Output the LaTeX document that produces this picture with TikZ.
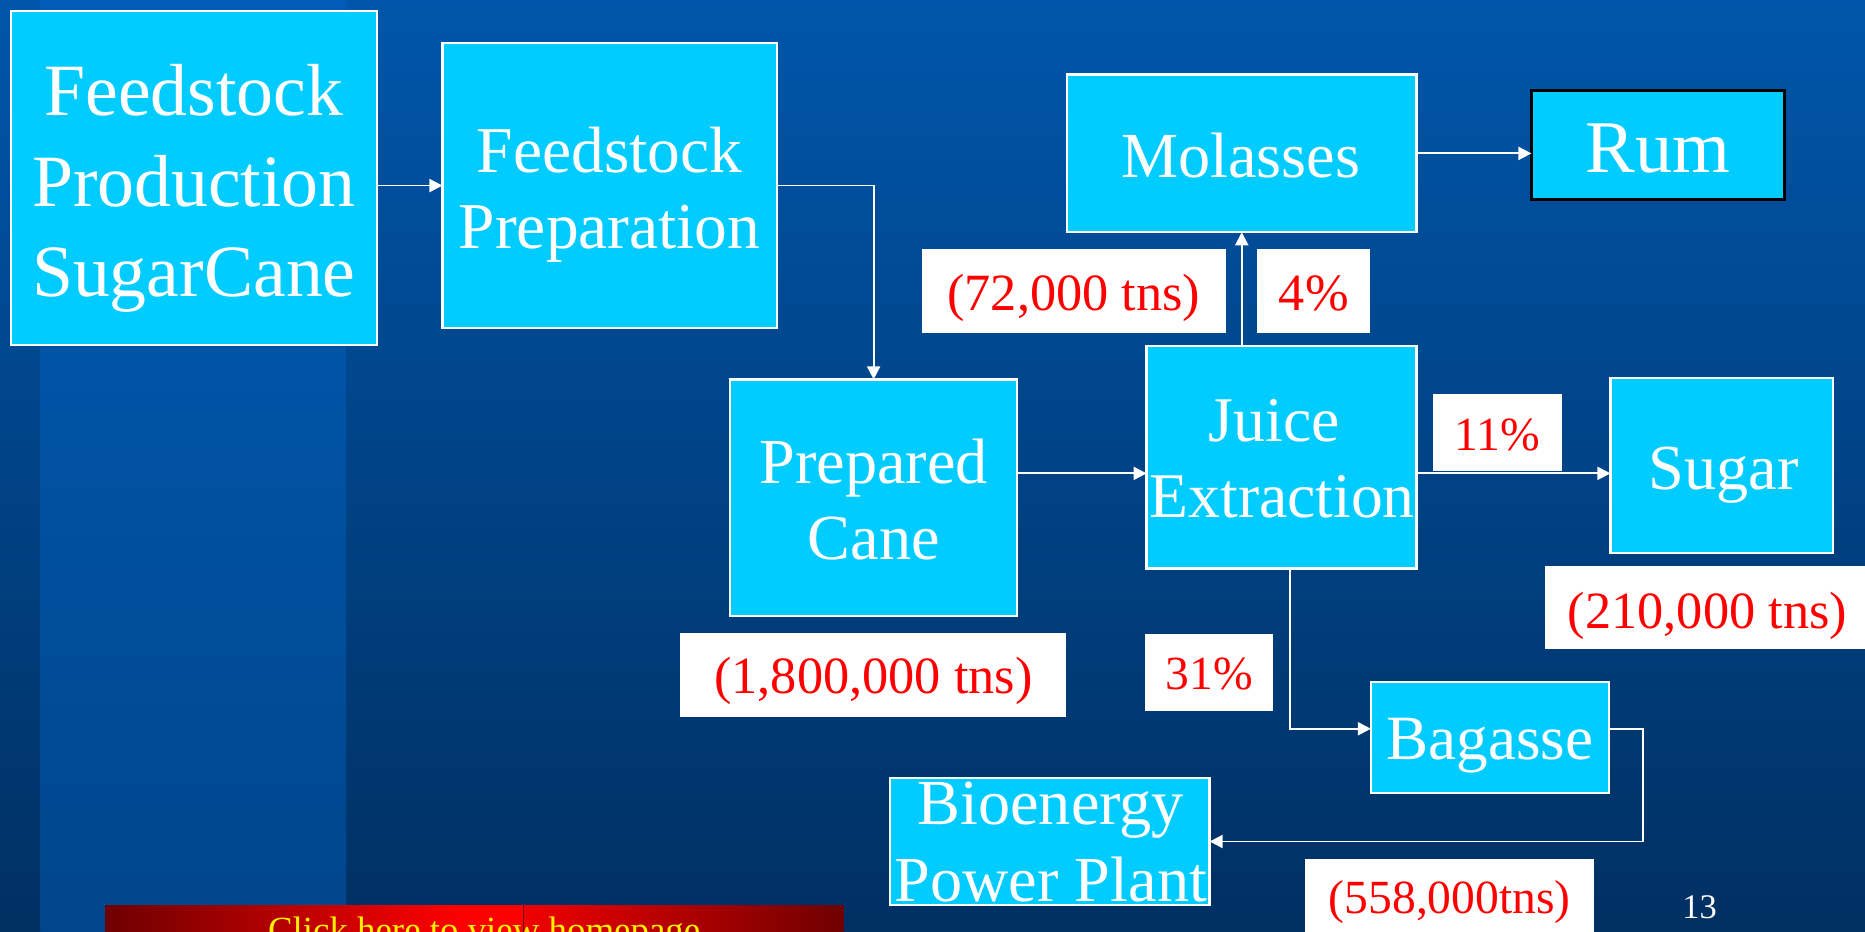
\documentclass[tikz,border=0pt]{standalone}
\usepackage{fontspec}
\setmainfont{Liberation Serif}
\usetikzlibrary{arrows.meta}
\definecolor{bgtop}{RGB}{0,86,170}
\definecolor{bgbot}{RGB}{0,48,98}
\definecolor{bandtop}{RGB}{0,92,182}
\definecolor{bandbot}{RGB}{0,70,140}
\definecolor{boxcyan}{RGB}{0,204,255}
\definecolor{btndark}{RGB}{110,0,0}
\definecolor{btnred}{RGB}{255,0,0}
\definecolor{btnredb}{RGB}{240,0,0}
\begin{document}
\begin{tikzpicture}[x=1pt,y=-1pt,
  procbox/.style={draw=white, line width=2pt, fill=boxcyan, inner sep=0pt, outer sep=0pt},
  rumbox/.style={draw=black, line width=2.5pt, fill=boxcyan, inner sep=0pt, outer sep=0pt},
  boxtext/.style={text=white, align=center, inner sep=0pt},
  tagbox/.style={fill=white, inner sep=0pt, outer sep=0pt, text=red, text depth=0pt},
  flow/.style={draw=white, line width=1.6pt, -{Triangle[length=11pt,width=11pt]}}
]
\useasboundingbox (0,0) rectangle (1568,783);
% background
\shade[top color=bgtop, bottom color=bgbot] (0,0) rectangle (1568,783);
\shade[top color=bandtop, bottom color=bandbot] (34,0) rectangle (291,783);

% process boxes
\node[procbox, minimum width=308pt, minimum height=281pt] (fp) at (163,149.5) {};
\node[boxtext, font=\fontsize{62}{76}\selectfont] (fpt) at (163,158.6) {Feedstock\\Production\\SugarCane};

\node[procbox, minimum width=281pt, minimum height=240pt] (prep) at (512.5,156) {};
\node[boxtext, font=\fontsize{55}{64}\selectfont] (prept) at (512.5,163.7) {Feedstock\\Preparation};

\node[procbox, minimum width=241pt, minimum height=199pt] (cane) at (734.5,418.5) {};
\node[boxtext, font=\fontsize{54}{64}\selectfont] (canet) at (734.5,419.8) {Prepared\\Cane};

\node[procbox, minimum width=227pt, minimum height=187pt] (juice) at (1077.5,384.4) {};
\node[boxtext, font=\fontsize{53.5}{64.5}\selectfont] (juicet) at (1078,385.6) {Juice\hspace*{0.25em}\\Extraction};

\node[procbox, minimum width=294pt, minimum height=132.5pt] (mol) at (1044,129) {};
\node[boxtext, font=\fontsize{54}{64}\selectfont] (molt) at (1043,130.4) {Molasses};

\node[rumbox, minimum width=212.5pt, minimum height=91pt] (rum) at (1393.8,122) {};
\node[boxtext, font=\fontsize{62.5}{72}\selectfont] (rumt) at (1394,125) {Rum};

\node[procbox, minimum width=187pt, minimum height=147pt] (sugar) at (1447.5,391.2) {};
\node[boxtext, font=\fontsize{54}{64}\selectfont] (sugart) at (1449,399.5) {Sugar};

\node[procbox, minimum width=200pt, minimum height=93pt] (bag) at (1252.6,620.1) {};
\node[boxtext, font=\fontsize{53}{64}\selectfont] (bagt) at (1252.6,627.2) {Bagasse};

\node[procbox, minimum width=269pt, minimum height=107pt] (bio) at (882.5,707.5) {};
\node[boxtext, font=\fontsize{54}{65}\selectfont] (biot) at (883.5,707.9) {Bioenergy\\Power Plant};

% quantity tags
\node[tagbox, minimum width=324.5pt, minimum height=70pt, text height=30.8pt, font=\fontsize{44}{50}\selectfont] (t1) at (734.3,567.6) {(1,800,000 tns)};
\node[tagbox, minimum width=107.5pt, minimum height=64.7pt, text height=29.2pt, font=\fontsize{40}{46}\selectfont] (t2) at (1016.8,565.4) {31\%};
\node[tagbox, minimum width=255.6pt, minimum height=70pt, text height=32pt, font=\fontsize{44}{50}\selectfont] (t3) at (902.8,244.7) {(72,000 tns)};
\node[tagbox, minimum width=95pt, minimum height=70pt, text height=32pt, font=\fontsize{44}{50}\selectfont] (t4) at (1104.5,244.7) {4\%};
\node[tagbox, minimum width=108pt, minimum height=64.7pt, text height=30pt, font=\fontsize{40}{46}\selectfont] (t5) at (1259,363.4) {11\%};
\node[tagbox, minimum width=273pt, minimum height=70pt, text height=34pt, font=\fontsize{44}{50}\selectfont] (t6) at (1435.5,511) {(210,000 tns)};
\node[tagbox, minimum width=243pt, minimum height=70pt, text height=22.4pt, font=\fontsize{40}{46}\selectfont] (t7) at (1218.9,756.8) {(558,000tns)};

% connectors
\draw[flow] (fp.east |- prep.west) -- (prep.west);
\draw[flow] (prep.east) -- (prep.east -| cane.north) -- (cane.north);
\coordinate (cj) at ([yshift=20.5pt]cane.east);
\draw[flow] (cj) -- (cj -| juice.west);
\coordinate (js) at ([yshift=-13.6pt]juice.east);
\draw[flow] (js) -- (js -| sugar.west);
\draw[flow] (juice.north -| mol.south) -- (mol.south);
\draw[flow] (mol.east) -- (mol.east -| rum.west);
\coordinate (jb) at ([xshift=7pt]juice.south);
\coordinate (bw) at ([yshift=7.4pt]bag.west);
\draw[flow] (jb) |- (bw);
\coordinate (be) at ([yshift=7.4pt]bag.east);
\draw[flow] (be) -- ++(28.4,0) |- (bio.east);

% page number
\node[anchor=base, text=white, inner sep=0pt, font=\fontsize{29}{34}\selectfont] (pnum) at (1429,772) {13};

% homepage button
\shade[left color=btndark, right color=btnred] (88.4,761) rectangle (390,795);
\fill[btnred] (390,761) rectangle (440,795);
\shade[left color=btnredb, right color=btndark] (440,761) rectangle (709,795);
\draw[black!60!red, line width=0.8pt] (440,761) -- (440,795);
\node[anchor=base, text=yellow, inner sep=0pt, font=\fontsize{31}{36}\selectfont] (home) at (407,792.5) {Click here to view homepage};
\end{tikzpicture}
\end{document}
